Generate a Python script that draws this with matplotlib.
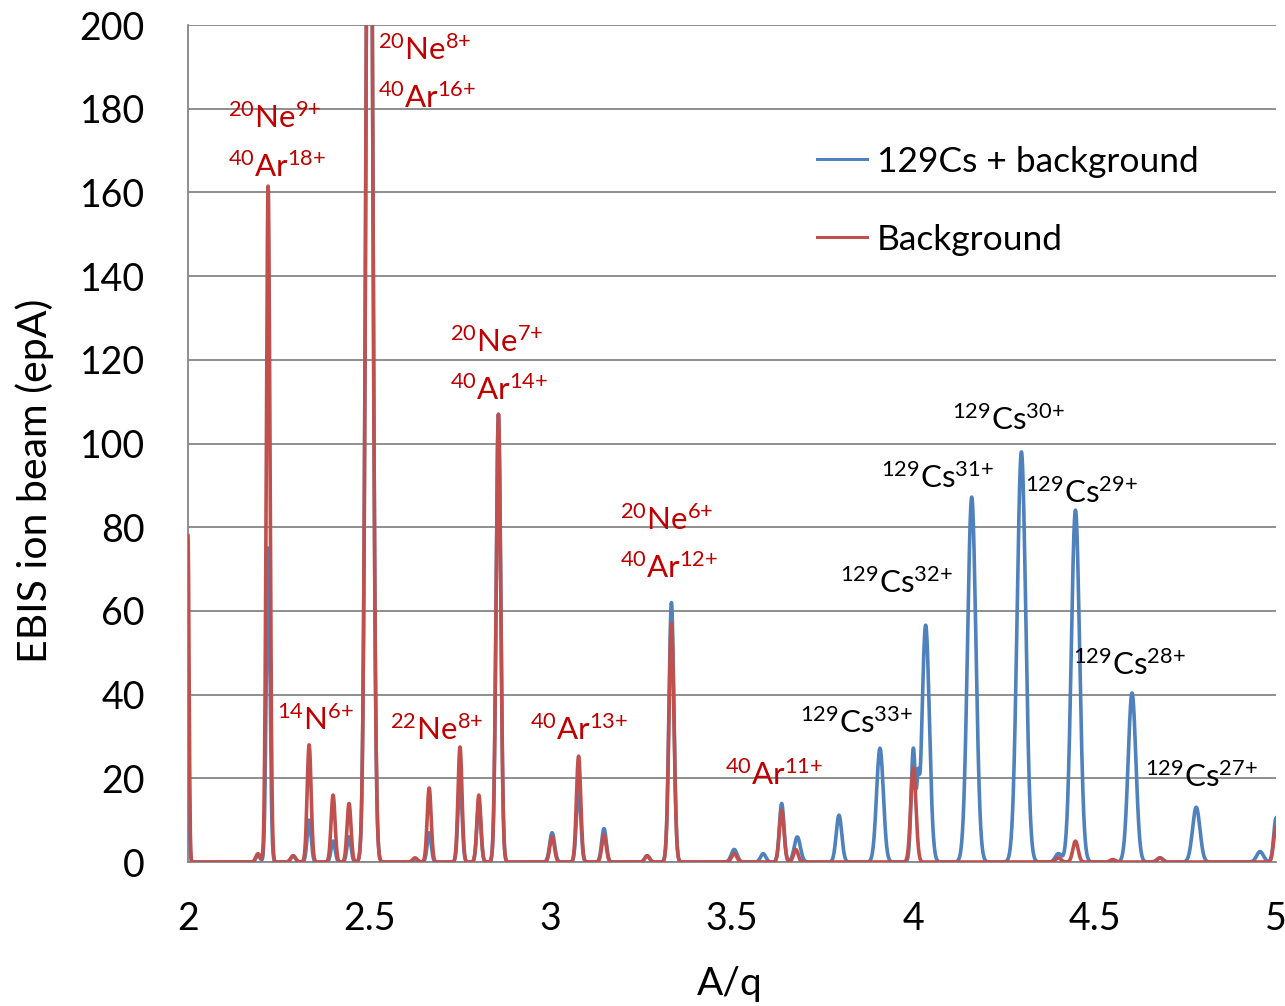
import numpy as np
import matplotlib
matplotlib.use("Agg")
import matplotlib.pyplot as plt

plt.rcParams['font.family'] = ['Lato', 'DejaVu Sans']
plt.rcParams['mathtext.fontset'] = 'custom'
plt.rcParams['mathtext.rm'] = 'Lato'
plt.rcParams['mathtext.it'] = 'Lato:italic'
plt.rcParams['mathtext.bf'] = 'Lato:bold'
plt.rcParams['mathtext.default'] = 'regular'

# ---- data: peaks (A/q position, height in epA, FWHM in A/q) ----
red_centers = [2.000, 2.193, 2.221, 2.290, 2.334, 2.400, 2.444, 2.500, 2.626, 2.665, 2.750,
               2.802, 2.856, 3.004, 3.077, 3.147, 3.266, 3.333, 3.506, 3.637, 3.676, 4.000,
               4.400, 4.447, 4.550, 4.680, 5.000]
red_heights = [78, 2, 161.5, 1.5, 28, 16, 14, 320, 1, 17.7, 27.5,
               16, 107, 6, 25.3, 6.5, 1.5, 57, 2, 12.4, 3, 22.5,
               1, 5, 0.6, 1, 8.4]
red_fwhm = [0.007, 0.014, 0.012, 0.015, 0.013, 0.013, 0.013, 0.020, 0.015, 0.013, 0.013,
            0.013, 0.015, 0.015, 0.014, 0.014, 0.015, 0.016, 0.017, 0.015, 0.015, 0.017,
            0.017, 0.017, 0.017, 0.017, 0.015]

blue_centers = [2.000, 2.193, 2.221, 2.290, 2.334, 2.400, 2.444, 2.500, 2.665, 2.750, 2.802,
                2.856, 3.004, 3.077, 3.147, 3.266, 3.333, 3.506, 3.586, 3.637, 3.680, 3.795,
                3.908, 4.000, 4.013, 4.034, 4.161, 4.298, 4.400, 4.447, 4.603, 4.680, 4.780,
                4.956, 5.000]
blue_heights = [34, 1.5, 75, 1.5, 10, 5, 6, 320, 7, 20, 14,
                107, 7, 18, 8, 1.5, 62, 3, 2, 14, 6, 11.2,
                27.2, 27, 13, 56.6, 87.2, 98, 2, 84.1, 40.4, 1, 13.1,
                2.5, 10.5]
blue_fwhm = [0.007, 0.014, 0.012, 0.015, 0.013, 0.013, 0.013, 0.020, 0.013, 0.013, 0.013,
             0.015, 0.016, 0.014, 0.015, 0.015, 0.016, 0.019, 0.017, 0.015, 0.020, 0.018,
             0.022, 0.014, 0.008, 0.024, 0.027, 0.028, 0.020, 0.027, 0.025, 0.020, 0.024,
             0.022, 0.015]

labels_red = [r'$^{20}$Ne$^{9{+}}$', r'$^{40}$Ar$^{18{+}}$', r'$^{20}$Ne$^{8{+}}$', r'$^{40}$Ar$^{16{+}}$',
              r'$^{20}$Ne$^{7{+}}$', r'$^{40}$Ar$^{14{+}}$', r'$^{14}$N$^{6{+}}$', r'$^{22}$Ne$^{8{+}}$',
              r'$^{40}$Ar$^{13{+}}$', r'$^{20}$Ne$^{6{+}}$', r'$^{40}$Ar$^{12{+}}$', r'$^{40}$Ar$^{11{+}}$']
labels_red_x = [2.110, 2.110, 2.524, 2.524, 2.722, 2.722, 2.245, 2.557, 2.943, 3.191, 3.191, 3.481]
labels_red_y = [175.4, 163.7, 191.6, 180.2, 121.9, 110.4, 31.5, 29.2, 29.2, 79.3, 67.9, 18.4]

labels_cs = [r'$^{129}$Cs$^{33{+}}$', r'$^{129}$Cs$^{32{+}}$', r'$^{129}$Cs$^{31{+}}$', r'$^{129}$Cs$^{30{+}}$',
             r'$^{129}$Cs$^{29{+}}$', r'$^{129}$Cs$^{28{+}}$', r'$^{129}$Cs$^{27{+}}$']
labels_cs_x = [3.688, 3.798, 3.911, 4.107, 4.308, 4.441, 4.639]
labels_cs_y = [30.8, 64.3, 89.4, 103.2, 85.8, 44.7, 17.9]

series_names = ['129Cs + background', 'Background']


def spectrum(x, centers, heights, fwhm):
    y = np.zeros_like(x)
    for c, h, w in zip(centers, heights, fwhm):
        s = w / 2.3548
        y += h * np.exp(-0.5 * ((x - c) / s) ** 2)
    return y


x = np.linspace(2.0, 5.0, 6001)
y_blue = spectrum(x, blue_centers, blue_heights, blue_fwhm)
y_red = spectrum(x, red_centers, red_heights, red_fwhm)

fig = plt.figure(figsize=(12.85, 10.06), dpi=100)
ax = fig.add_axes([0.1463, 0.1431, 0.993 - 0.1463, 0.9751 - 0.1431])

blue = '#4F81BD'
red = '#C0504D'
ax.plot(x, y_blue, color=blue, lw=2.6, label=series_names[0], solid_joinstyle='round', zorder=3)
ax.plot(x, y_red, color=red, lw=2.6, label=series_names[1], solid_joinstyle='round', zorder=4)

ax.set_xlim(2, 5)
ax.set_ylim(0, 200)
ax.set_xticks([2, 2.5, 3, 3.5, 4, 4.5, 5])
ax.set_xticklabels(['2', '2.5', '3', '3.5', '4', '4.5', '5'])
ax.set_yticks(np.arange(0, 201, 20))
ax.yaxis.grid(True, color='#868686', lw=1.3)
ax.set_axisbelow(True)
for sp in ['top', 'right']:
    ax.spines[sp].set_visible(False)
for sp in ['left', 'bottom']:
    ax.spines[sp].set_color('#868686')
    ax.spines[sp].set_linewidth(1.3)
ax.tick_params(axis='both', length=0, labelsize=27)
ax.tick_params(axis='x', pad=28)
ax.tick_params(axis='y', pad=31)

ax.set_xlabel('A/q', fontsize=28)
ax.set_ylabel('EBIS ion beam (epA)', fontsize=29.5)
ax.xaxis.set_label_coords(0.498, -0.146)
ax.yaxis.set_label_coords(-0.141, 0.456)
ax.xaxis.label.set_va('center')
ax.yaxis.label.set_va('center')

for t, lx, ly in zip(labels_red, labels_red_x, labels_red_y):
    ax.text(lx, ly, t, color='#C00000', fontsize=22.5, ha='left', va='baseline', zorder=5)
for t, lx, ly in zip(labels_cs, labels_cs_x, labels_cs_y):
    ax.text(lx, ly, t, color='black', fontsize=22.5, ha='left', va='baseline', zorder=5)

leg = ax.legend(loc='upper left', bbox_to_anchor=(0.549, 0.894), frameon=False,
                fontsize=25.5, handlelength=1.41, handletextpad=0.28, labelspacing=1.3)
for h in leg.get_lines():
    h.set_linewidth(2.2)

fig.savefig('out.png', dpi=100)
